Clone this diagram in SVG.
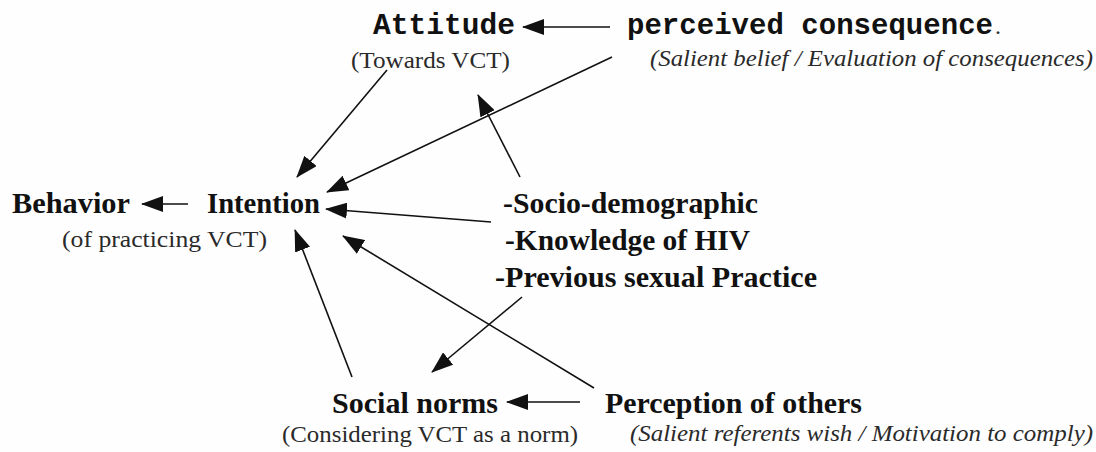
<svg xmlns="http://www.w3.org/2000/svg" width="1096" height="452" viewBox="0 0 1096 452">
<style>
.mono{font-family:'Liberation Mono','Courier New',monospace;font-weight:bold;font-size:29px;fill:#111}
.bold{font-family:'Liberation Serif','Times New Roman',serif;font-weight:bold;font-size:30px;fill:#111}
.sub{font-family:'Liberation Serif','Times New Roman',serif;font-size:24px;fill:#2a2a2a}
.it{font-family:'Liberation Serif','Times New Roman',serif;font-style:italic;font-size:24px;fill:#2a2a2a}
.conn line{stroke:#111;stroke-width:1.6;marker-end:url(#ah)}
</style>
<defs>
<marker id="ah" markerUnits="userSpaceOnUse" markerWidth="22" markerHeight="16" refX="21" refY="8" orient="auto">
<path d="M0,0 L22,8 L0,16 z" fill="#111"/>
</marker>
</defs>
<rect width="1096" height="452" fill="#fefefe"/>
<g class="conn" id="connectors">
<line x1="610" y1="27" x2="523" y2="27"/>
<line x1="188" y1="204" x2="142" y2="204"/>
<line x1="580" y1="402" x2="507" y2="402"/>
<line x1="387" y1="70" x2="297" y2="177"/>
<line x1="612" y1="57" x2="327" y2="192"/>
<line x1="520" y1="177" x2="478" y2="95"/>
<line x1="491" y1="222" x2="326" y2="209"/>
<line x1="352" y1="377" x2="295" y2="230"/>
<line x1="522" y1="297" x2="432" y2="372"/>
<line x1="594" y1="388" x2="343" y2="236"/>
</g>
<g id="attitude">
<text class="mono" x="373" y="34" textLength="142" lengthAdjust="spacingAndGlyphs">Attitude</text>
<text class="sub" x="351" y="68" textLength="159" lengthAdjust="spacingAndGlyphs">(Towards VCT)</text>
</g>
<g id="perceived-consequence">
<text class="mono" x="627" y="34" textLength="366" lengthAdjust="spacingAndGlyphs">perceived consequence</text>
<text class="sub" x="995" y="34" font-size="14">.</text>
<text class="it" x="650" y="66" textLength="443" lengthAdjust="spacingAndGlyphs">(Salient belief / Evaluation of consequences)</text>
</g>
<g id="behavior">
<text class="bold" x="12" y="213" textLength="118" lengthAdjust="spacingAndGlyphs">Behavior</text>
<text class="sub" x="62" y="247" textLength="205" lengthAdjust="spacingAndGlyphs">(of practicing VCT)</text>
</g>
<g id="intention">
<text class="bold" x="207" y="213" textLength="113" lengthAdjust="spacingAndGlyphs">Intention</text>
</g>
<g id="factors">
<text class="bold" x="503" y="213" textLength="255" lengthAdjust="spacingAndGlyphs">-Socio-demographic</text>
<text class="bold" x="505" y="250" textLength="245" lengthAdjust="spacingAndGlyphs">-Knowledge of HIV</text>
<text class="bold" x="495" y="287" textLength="322" lengthAdjust="spacingAndGlyphs">-Previous sexual Practice</text>
</g>
<g id="social-norms">
<text class="bold" x="332" y="413" textLength="166" lengthAdjust="spacingAndGlyphs">Social norms</text>
<text class="sub" x="282" y="442" textLength="296" lengthAdjust="spacingAndGlyphs">(Considering VCT as a norm)</text>
</g>
<g id="perception-of-others">
<text class="bold" x="605" y="413" textLength="257" lengthAdjust="spacingAndGlyphs">Perception of others</text>
<text class="it" x="630" y="441" textLength="463" lengthAdjust="spacingAndGlyphs">(Salient referents wish / Motivation to comply)</text>
</g>
</svg>
